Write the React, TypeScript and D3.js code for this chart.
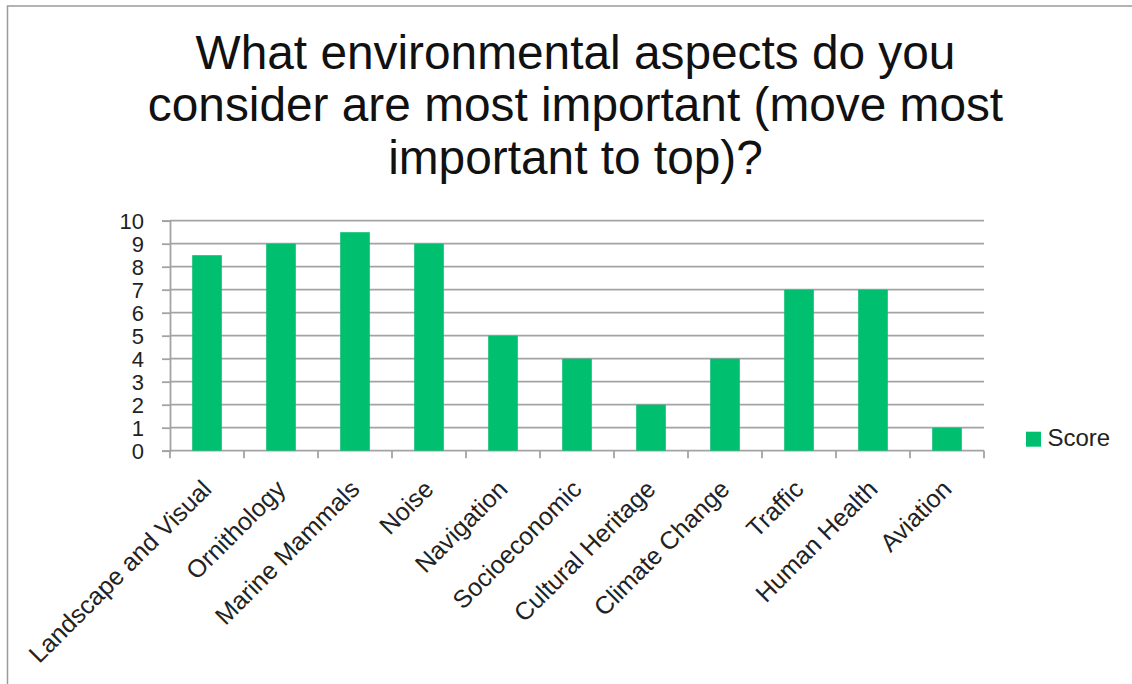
import React, { useEffect, useRef } from 'react'
import * as d3 from 'd3'

const categories = [
    'Landscape and Visual',
    'Ornithology',
    'Marine Mammals',
    'Noise',
    'Navigation',
    'Socioeconomic',
    'Cultural Heritage',
    'Climate Change',
    'Traffic',
    'Human Health',
    'Aviation'
]
const scores = [8.5, 9, 9.5, 9, 5, 4, 2, 4, 7, 7, 1]
const yTicks = [0, 1, 2, 3, 4, 5, 6, 7, 8, 9, 10]
const titleLines = [
    'What environmental aspects do you',
    'consider are most important (move most',
    'important to top)?'
]
const seriesName = 'Score'

const W = 1132
const H = 684
const plot = { left: 170, right: 984, top: 220.7, bottom: 450.7 }
const barColor = '#00bf6f'
const gridColor = '#a3a3a3'
const font = "'Liberation Sans', Arial, sans-serif"

const App: React.FC = () => {
    const ref = useRef<SVGSVGElement>(null)
    useEffect(() => {
        const svg = d3.select(ref.current)
        svg.selectAll('*').remove()

        // outer frame (cut off on right and bottom)
        svg.append('path')
            .attr('d', `M7.5,${H} V6 H${W}`)
            .attr('fill', 'none')
            .attr('stroke', '#9a9a9a')
            .attr('stroke-width', 1.5)

        svg.append('g')
            .selectAll('text')
            .data(titleLines)
            .join('text')
            .attr('x', 575.5)
            .attr('y', (d, i) => 68.5 + i * 52.5)
            .attr('text-anchor', 'middle')
            .attr('font-family', font)
            .attr('font-size', 47.8)
            .attr('fill', '#111')
            .text((d) => d)

        const x = d3
            .scaleBand<string>()
            .domain(categories)
            .range([plot.left, plot.right])
            .paddingInner(0.6)
            .paddingOuter(0.3)
        const step = x.step()
        const y = d3.scaleLinear().domain([0, 10]).range([plot.bottom, plot.top])

        // gridlines
        svg.append('g')
            .selectAll('line')
            .data(yTicks)
            .join('line')
            .attr('x1', plot.left)
            .attr('x2', plot.right)
            .attr('y1', (d) => y(d))
            .attr('y2', (d) => y(d))
            .attr('stroke', gridColor)
            .attr('stroke-width', 1.8)

        // bars
        svg.append('g')
            .selectAll('rect')
            .data(scores)
            .join('rect')
            .attr('x', (d, i) => x(categories[i]) as number)
            .attr('width', x.bandwidth())
            .attr('y', (d) => y(d))
            .attr('height', (d) => y(0) - y(d))
            .attr('fill', barColor)

        // y axis
        const yAxis = svg
            .append('g')
            .attr('transform', `translate(${plot.left},0)`)
            .call(d3.axisLeft(y).tickValues(yTicks).tickSize(8).tickPadding(18).tickFormat(d3.format('d')))
        yAxis.select('.domain').attr('stroke', gridColor).attr('stroke-width', 1.8)
        yAxis.selectAll('.tick line').attr('stroke', gridColor).attr('stroke-width', 1.8)
        yAxis
            .selectAll('.tick text')
            .attr('font-family', font)
            .attr('font-size', 22)
            .attr('fill', '#222')
            .attr('dy', '0.36em')

        // x axis ticks at category boundaries
        const boundaries = d3.range(categories.length + 1).map((i) => plot.left + i * step)
        svg.append('g')
            .selectAll('line')
            .data(boundaries)
            .join('line')
            .attr('x1', (d) => d)
            .attr('x2', (d) => d)
            .attr('y1', plot.bottom)
            .attr('y2', plot.bottom + 7.5)
            .attr('stroke', gridColor)
            .attr('stroke-width', 1.8)

        // rotated category labels
        svg.append('g')
            .selectAll('text')
            .data(categories)
            .join('text')
            .attr('transform', (d) => {
                const cx = (x(d) as number) + x.bandwidth() / 2
                return `translate(${cx + 6},${plot.bottom + 40}) rotate(-45)`
            })
            .attr('text-anchor', 'end')
            .attr('font-family', font)
            .attr('font-size', 25)
            .attr('fill', '#222')
            .text((d) => d)

        // legend
        const legend = svg.append('g').attr('transform', 'translate(1026,431.7)')
        legend.append('rect').attr('width', 15).attr('height', 15).attr('fill', barColor)
        legend
            .append('text')
            .attr('x', 21.5)
            .attr('y', 14)
            .attr('font-family', font)
            .attr('font-size', 24)
            .attr('fill', '#222')
            .text(seriesName)
    }, [])
    return (
        <div style={{ position: 'absolute', left: 0, top: 0, width: W, height: H, background: '#fff' }}>
            <svg ref={ref} width={W} height={H} viewBox={`0 0 ${W} ${H}`}></svg>
        </div>
    )
}

export default App
